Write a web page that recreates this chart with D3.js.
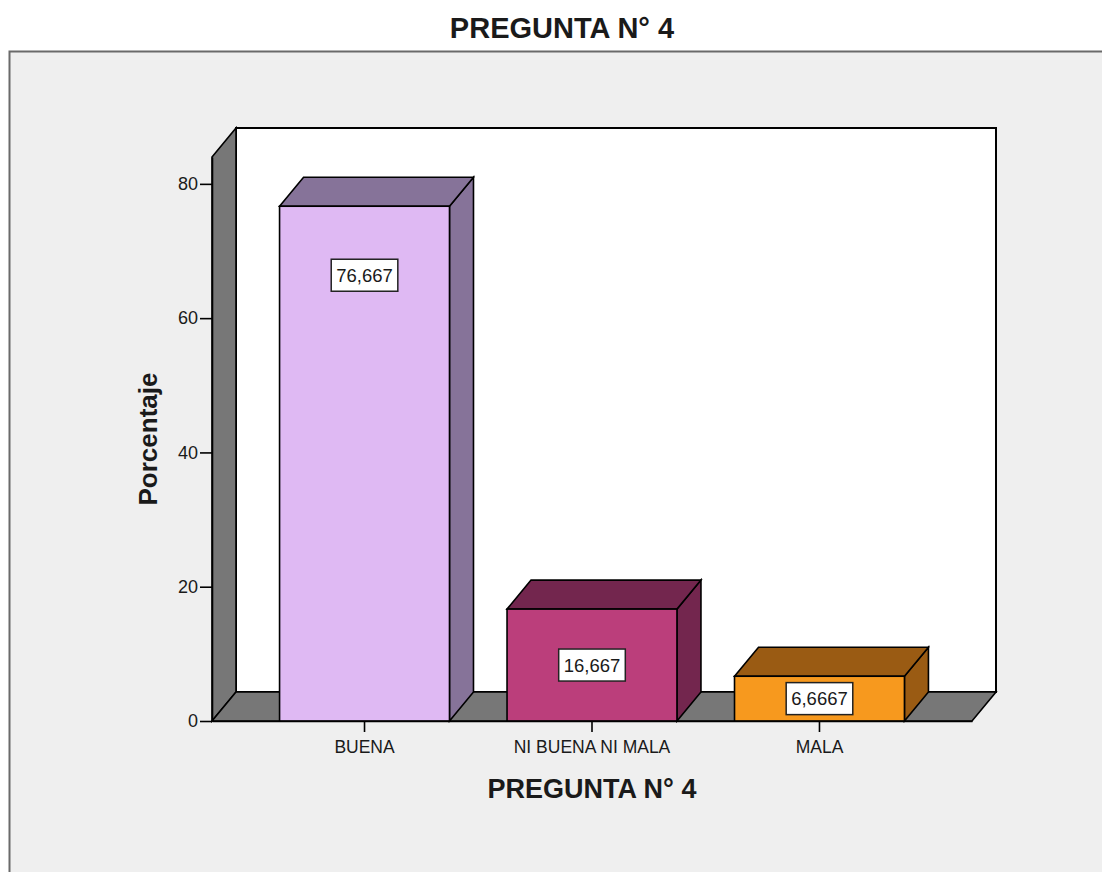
<!DOCTYPE html>
<html>
<head>
<meta charset="utf-8">
<script src="https://cdn.jsdelivr.net/npm/d3@7"></script>
<style>
  html, body { margin: 0; padding: 0; background: #ffffff; }
  svg { display: block; }
  text { font-family: Arial, "Liberation Sans", sans-serif; fill: #1a1a1a; }
</style>
</head>
<body>
<svg id="chart" width="1102" height="872"></svg>
<script>
// Chart data
const title = "PREGUNTA N° 4";
const xTitle = "PREGUNTA N° 4";
const yTitle = "Porcentaje";
const categories = ["BUENA", "NI BUENA NI MALA", "MALA"];
const percentages = [76.667, 16.667, 6.6667];
const yTicks = [0, 20, 40, 60, 80];
const frontColors = ["#dfb9f3", "#bb3e7b", "#f7991e"];
const shadeColors = ["#867399", "#73264e", "#9a5b13"];

const svg = d3.select("#chart");

// Outer panel
svg.append("rect")
  .attr("x", 9.5).attr("y", 51.5)
  .attr("width", 1120).attr("height", 840)
  .attr("fill", "#efefef")
  .attr("stroke", "#6a6a6a").attr("stroke-width", 2);

svg.append("text")
  .attr("x", 562).attr("y", 38)
  .attr("text-anchor", "middle")
  .style("font-size", "29px").style("font-weight", "bold")
  .text(title);

// Plot geometry (front plane plus a receding depth offset)
const left = 212, right = 972, bottom = 721;
const depthX = 24, depthY = -29;

const y = d3.scaleLinear().domain([0, 84]).range([bottom, 157]);
const x = d3.scaleBand().domain(categories).range([left, right])
  .paddingInner(0.253).paddingOuter(0.297);

const g = svg.append("g");
const edge = { stroke: "#000", "stroke-width": 1.6, "stroke-linejoin": "miter" };
function applyEdge(sel) { Object.entries(edge).forEach(([k, v]) => sel.attr(k, v)); return sel; }
const poly = pts => pts.map(p => p.join(",")).join(" ");

// Back wall
applyEdge(g.append("rect")
  .attr("x", left + depthX).attr("y", y.range()[1] + depthY)
  .attr("width", right - left).attr("height", bottom - y.range()[1])
  .attr("fill", "#ffffff")).attr("stroke-width", 2);

// Left side wall
applyEdge(g.append("polygon")
  .attr("points", poly([[left, bottom], [left, y.range()[1]],
    [left + depthX, y.range()[1] + depthY], [left + depthX, bottom + depthY]]))
  .attr("fill", "#777777"));

// Floor
applyEdge(g.append("polygon")
  .attr("points", poly([[left, bottom], [right, bottom],
    [right + depthX, bottom + depthY], [left + depthX, bottom + depthY]]))
  .attr("fill", "#777777"));

// 3D bars
const bars = g.selectAll("g.bar")
  .data(categories.map((c, i) => ({ c, v: percentages[i], i })))
  .join("g").attr("class", "bar");

bars.each(function(d) {
  const sel = d3.select(this);
  const x0 = x(d.c), x1 = x(d.c) + x.bandwidth(), yt = y(d.v);
  applyEdge(sel.append("polygon")
    .attr("points", poly([[x1, yt], [x1 + depthX, yt + depthY], [x1 + depthX, bottom + depthY], [x1, bottom]]))
    .attr("fill", shadeColors[d.i]));
  applyEdge(sel.append("polygon")
    .attr("points", poly([[x0, yt], [x0 + depthX, yt + depthY], [x1 + depthX, yt + depthY], [x1, yt]]))
    .attr("fill", shadeColors[d.i]));
  applyEdge(sel.append("rect")
    .attr("x", x0).attr("y", yt).attr("width", x1 - x0).attr("height", bottom - yt)
    .attr("fill", frontColors[d.i]));

  // Value label in a boxed tag on the front face
  const cx = x0 + x.bandwidth() / 2;
  const cy = yt + Math.min((bottom - yt) / 2, 69);
  const lab = sel.append("g");
  const t = lab.append("text")
    .attr("x", cx).attr("y", cy).attr("dy", "0.36em")
    .attr("text-anchor", "middle")
    .style("font-size", "18.5px")
    .text(String(d.v).replace(".", ","));
  const bb = t.node().getBBox();
  lab.insert("rect", "text")
    .attr("x", bb.x - 5).attr("y", cy - 16)
    .attr("width", bb.width + 10).attr("height", 32)
    .attr("fill", "#ffffff").attr("stroke", "#222").attr("stroke-width", 1.5);
});

// Y axis
const yAxis = svg.append("g")
  .attr("transform", `translate(${left},0)`)
  .call(d3.axisLeft(y).tickValues(yTicks).tickSize(12).tickSizeOuter(0).tickPadding(2));
yAxis.select(".domain").attr("stroke", "#000").attr("stroke-width", 1.6);
yAxis.selectAll(".tick line").attr("stroke", "#000").attr("stroke-width", 1.6);
yAxis.selectAll(".tick text")
  .style("font-size", "18px").style("font-family", "Arial, 'Liberation Sans', sans-serif")
  .attr("fill", "#1a1a1a");

// X axis
const xAxis = svg.append("g")
  .attr("transform", `translate(0,${bottom})`)
  .call(d3.axisBottom(x).tickSize(11).tickSizeOuter(0));
xAxis.select(".domain").attr("stroke", "#000").attr("stroke-width", 1.6);
xAxis.selectAll(".tick line").attr("stroke", "#000").attr("stroke-width", 1.6);
xAxis.selectAll(".tick text")
  .attr("y", 32).attr("dy", 0)
  .style("font-size", "17.5px").style("font-family", "Arial, 'Liberation Sans', sans-serif")
  .attr("fill", "#1a1a1a");

// Axis titles
svg.append("text")
  .attr("x", (left + right) / 2).attr("y", 798)
  .attr("text-anchor", "middle")
  .style("font-size", "27px").style("font-weight", "bold")
  .text(xTitle);

svg.append("text")
  .attr("transform", `translate(157,${(y(0) + y.range()[1]) / 2}) rotate(-90)`)
  .attr("text-anchor", "middle")
  .style("font-size", "26px").style("font-weight", "bold")
  .text(yTitle);
</script>
</body>
</html>
